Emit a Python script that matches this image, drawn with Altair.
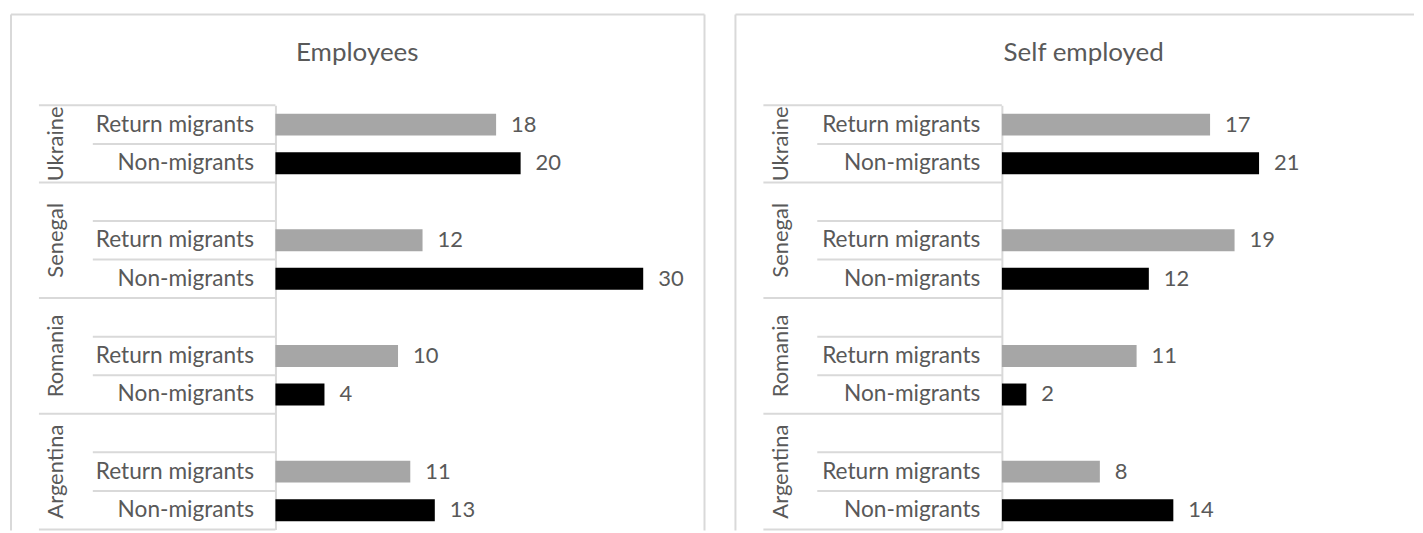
import altair as alt
import pandas as pd

# ---- data ----
countries = ["Ukraine", "Senegal", "Romania", "Argentina"]
statuses = ["Return migrants", "Non-migrants"]
has_spacer = [False, True, True, True]   # blank first row inside the group
panel_titles = ["Employees", "Self employed"]
employees_return = [18, 12, 10, 11]
employees_non = [20, 30, 4, 13]
self_return = [17, 19, 11, 8]
self_non = [21, 12, 2, 14]

FONT = "Lato"
GREY = "#595959"
LINE = "#D9D9D9"
BAR_COLORS = ["#A6A6A6", "#000000"]
FS = 22
AXFS = 22.7

# row ids (top to bottom)
rows, long_tops, short_tops, mid_anchor, pair_anchor = [], [], [], [], []
for c, sp in zip(countries, has_spacer):
    grp = ([f"{c}|"] if sp else []) + [f"{c}|{s}" for s in statuses]
    rows += grp
    long_tops.append(grp[0])
    short_tops += grp[1:]
    if len(grp) % 2 == 1:
        mid_anchor.append({"rid": grp[len(grp) // 2], "country": c})
    else:
        pair_anchor.append({"rid": grp[len(grp) // 2 - 1], "country": c})


def panel(title, ret, non, W, xmax, left_off, box_off, sub_off, cx, right_end, right_line):
    H = 425
    bars = pd.DataFrame({
        "rid": [f"{c}|{s}" for c in countries for s in statuses],
        "status": [s for c in countries for s in statuses],
        "value": [v for pair in zip(ret, non) for v in pair],
    })
    yscale = alt.Scale(domain=rows, paddingInner=0, paddingOuter=0)
    yaxis = alt.Axis(title=None, labelExpr="split(datum.value, '|')[1]",
                     labelFont=FONT, labelFontSize=AXFS, labelColor=GREY,
                     labelPadding=22, ticks=False, domainColor=LINE,
                     domainWidth=2, grid=False, labelLimit=400)

    def Y(bp=0.5):
        return alt.Y("rid:N", scale=yscale, axis=yaxis, bandPosition=bp)

    xs = alt.X("value:Q", scale=alt.Scale(domain=[0, xmax], nice=False, zero=True), axis=None)

    bar = alt.Chart(bars).mark_bar(height=alt.RelativeBandSize(0.57)).encode(
        y=Y(), x=xs,
        color=alt.Color("status:N", scale=alt.Scale(domain=statuses, range=BAR_COLORS), legend=None),
    )
    lab = alt.Chart(bars).mark_text(align="left", baseline="middle", dx=15, font=FONT,
                                    fontSize=FS, color=GREY).encode(y=Y(), x=xs, text="value:Q")

    long_df = pd.DataFrame({"rid": long_tops})
    short_df = pd.DataFrame({"rid": short_tops})
    last_df = pd.DataFrame({"rid": [rows[-1]]})
    r_long = alt.Chart(long_df).mark_rule(color=LINE, strokeWidth=2).encode(
        y=Y(0), x=alt.value(box_off), x2=alt.value(0))
    r_short = alt.Chart(short_df).mark_rule(color=LINE, strokeWidth=2).encode(
        y=Y(0), x=alt.value(sub_off), x2=alt.value(0))
    r_last = alt.Chart(last_df).mark_rule(color=LINE, strokeWidth=2).encode(
        y=Y(1), x=alt.value(box_off), x2=alt.value(0))

    ctext = dict(angle=270, align="center", baseline="middle", font=FONT, fontSize=FS, color=GREY)
    c_mid = alt.Chart(pd.DataFrame(mid_anchor)).mark_text(**ctext).encode(
        y=Y(0.5), x=alt.value(cx), text="country:N")
    c_pair = alt.Chart(pd.DataFrame(pair_anchor)).mark_text(**ctext).encode(
        y=Y(1), x=alt.value(cx), text="country:N")

    tdf = pd.DataFrame({"t": [title]})
    ttl = alt.Chart(tdf).mark_text(font=FONT, fontSize=26, color=GREY, align="center",
                                   baseline="middle").encode(
        text="t:N", x=alt.value(82), y=alt.value(-52))
    b_top = alt.Chart(tdf).mark_rule(color=LINE, strokeWidth=2).encode(
        x=alt.value(left_off), x2=alt.value(right_end), y=alt.value(-91))
    b_left = alt.Chart(tdf).mark_rule(color=LINE, strokeWidth=2).encode(
        x=alt.value(left_off), y=alt.value(-91), y2=alt.value(H + 1))
    layers = [b_top, b_left, r_long, r_short, r_last, bar, lab, c_mid, c_pair, ttl]
    if right_line:
        b_right = alt.Chart(tdf).mark_rule(color=LINE, strokeWidth=2).encode(
            x=alt.value(W), y=alt.value(-91), y2=alt.value(H + 1))
        layers.insert(2, b_right)
    return alt.layer(*layers).properties(width=W, height=H)


p1 = panel(panel_titles[0], employees_return, employees_non, 430, 35, -265, -237, -183, -220, 430, True)
p2 = panel(panel_titles[1], self_return, self_non, 405, 33, -267, -239, -185, -221, 413, False)

chart = alt.hconcat(p1, p2, spacing=29).properties(
    padding={"left": 2, "top": 5, "right": 0, "bottom": 0}
).configure_view(stroke=None)

chart.save("out.html", embed_options={"renderer": "svg", "actions": False})
